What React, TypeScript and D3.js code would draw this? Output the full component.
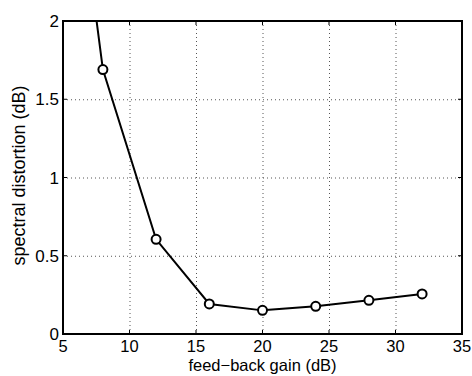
import React from 'react';
import * as d3 from 'd3';

const gains = [4, 8, 12, 16, 20, 24, 28, 32];
const distortion = [4.3, 1.69, 0.605, 0.192, 0.151, 0.177, 0.215, 0.256];
const xTicks = [5, 10, 15, 20, 25, 30, 35];
const yTicks = [0, 0.5, 1, 1.5, 2];
const yTickLabels = ['0', '0.5', '1', '1.5', '2'];

const W = 472;
const H = 376;
const margin = { top: 21, right: 10, bottom: 42, left: 63 };
const font = '"Liberation Sans", Arial, Helvetica, sans-serif';

const App: React.FC = () => {
    const x = d3.scaleLinear().domain([5, 35]).range([margin.left, W - margin.right]);
    const y = d3.scaleLinear().domain([0, 2]).range([H - margin.bottom, margin.top]);

    const pts = gains.map((g, i) => ({ g, v: distortion[i] }));
    const line = d3.line<{ g: number; v: number }>()
        .x(d => x(d.g))
        .y(d => y(d.v));

    const x0 = x.range()[0], x1 = x.range()[1];
    const y0 = y.range()[0], y1 = y.range()[1];
    const tick = 4;

    return (
        <svg width={W} height={H} style={{ position: 'absolute', left: 0, top: 0, background: '#fff' }}>
            <defs>
                <clipPath id="plot">
                    <rect x={x0} y={y1} width={x1 - x0} height={y0 - y1} />
                </clipPath>
            </defs>
            <rect x={0} y={0} width={W} height={H} fill="#fff" />
            {/* grid */}
            <g stroke="#555" strokeWidth={1} strokeDasharray="1,3">
                {xTicks.slice(1, -1).map(t => (
                    <line key={'gx' + t} x1={x(t) + 0.5} x2={x(t) + 0.5} y1={y1} y2={y0} />
                ))}
                {yTicks.slice(1, -1).map(t => (
                    <line key={'gy' + t} x1={x0} x2={x1} y1={y(t) + 0.5} y2={y(t) + 0.5} />
                ))}
            </g>
            {/* ticks */}
            <g stroke="#000" strokeWidth={1}>
                {xTicks.map(t => (
                    <g key={'tx' + t}>
                        <line x1={x(t)} x2={x(t)} y1={y0} y2={y0 - tick} />
                        <line x1={x(t)} x2={x(t)} y1={y1} y2={y1 + tick} />
                    </g>
                ))}
                {yTicks.map(t => (
                    <g key={'ty' + t}>
                        <line x1={x0} x2={x0 + tick} y1={y(t)} y2={y(t)} />
                        <line x1={x1} x2={x1 - tick} y1={y(t)} y2={y(t)} />
                    </g>
                ))}
            </g>
            {/* data */}
            <g clipPath="url(#plot)">
                <path d={line(pts) ?? ''} fill="none" stroke="#000" strokeWidth={2} />
                {pts.map(p => (
                    <circle key={p.g} cx={x(p.g)} cy={y(p.v)} r={4.5} fill="#fff" stroke="#000" strokeWidth={2} />
                ))}
            </g>
            {/* box */}
            <rect x={x0} y={y1} width={x1 - x0} height={y0 - y1} fill="none" stroke="#000" strokeWidth={2} />
            {/* tick labels */}
            <g fontFamily={font} fill="#000">
                {xTicks.map(t => (
                    <text key={'lx' + t} x={x(t)} y={352} fontSize={16.5} textAnchor="middle">{t}</text>
                ))}
                {yTicks.map((t, i) => (
                    <text key={'ly' + t} x={59} y={y(t) + 6} fontSize={17} textAnchor="end">{yTickLabels[i]}</text>
                ))}
                <text x={(x0 + x1) / 2} y={371} fontSize={16.5} textAnchor="middle">feed−back gain (dB)</text>
                <text transform={`translate(25,${(y0 + y1) / 2 - 2}) rotate(-90)`} fontSize={18} textAnchor="middle">spectral distortion (dB)</text>
            </g>
        </svg>
    );
};

export default App;
